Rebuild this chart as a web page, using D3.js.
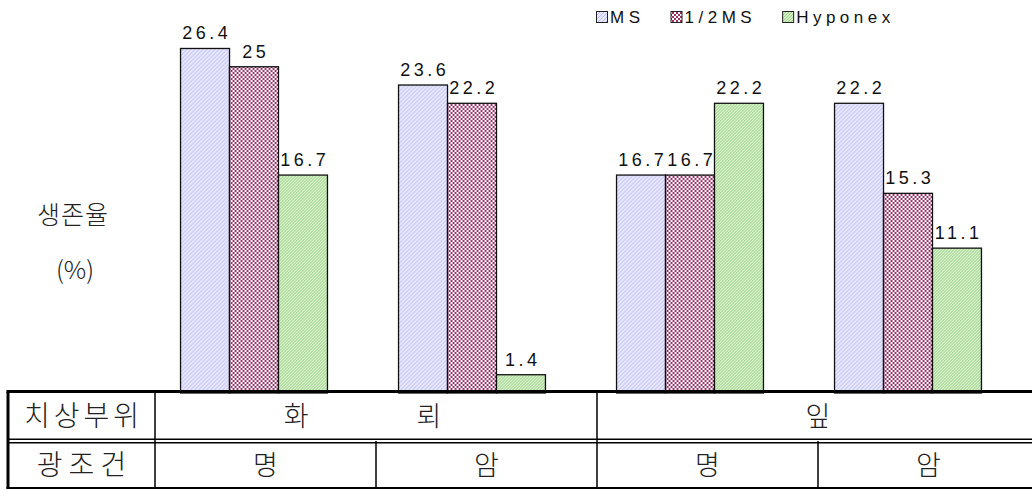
<!DOCTYPE html>
<html>
<head>
<meta charset="utf-8">
<script src="https://cdn.jsdelivr.net/npm/d3@7/dist/d3.min.js"></script>
<style>
  body { margin: 0; background: #fff; }
  svg { display: block; }
  .num { font-family: "Liberation Sans", Arial, sans-serif; }
  .kr { font-family: "Noto Sans CJK KR", sans-serif; font-weight: 300; }
</style>
</head>
<body>
<div id="root"></div>
<script>
// data
const groups = ["화뢰-명", "화뢰-암", "잎-명", "잎-암"]
const series = ["MS", "1/2MS", "Hyponex"]
const ms_values = [26.4, 23.6, 16.7, 22.2]
const half_ms_values = [25, 22.2, 16.7, 15.3]
const hyponex_values = [16.7, 1.4, 22.2, 11.1]

// table under the chart
const part_labels = ["화　　　　뢰　", "잎"]
const light_labels = ["명", "암", "명", "암"]

const width = 1032, height = 490

const svg = d3.select("#root").append("svg")
  .attr("width", width)
  .attr("height", height)

// fill patterns
const defs = svg.append("defs")

const p_ms = defs.append("pattern").attr("id", "pat_ms")
  .attr("patternUnits", "userSpaceOnUse").attr("width", 4).attr("height", 4)
p_ms.append("rect").attr("width", 4).attr("height", 4).attr("fill", "#e6e6ff")
p_ms.append("path").attr("d", "M-1,1 l2,-2 M0,4 l4,-4 M3,5 l2,-2")
  .attr("stroke", "#bcbcf4").attr("stroke-width", 1)

const p_half = defs.append("pattern").attr("id", "pat_half")
  .attr("patternUnits", "userSpaceOnUse").attr("width", 4).attr("height", 4)
p_half.append("rect").attr("width", 4).attr("height", 4).attr("fill", "#fff")
p_half.append("rect").attr("width", 2).attr("height", 2).attr("fill", "#9c3368")
p_half.append("rect").attr("x", 2).attr("y", 2).attr("width", 2).attr("height", 2).attr("fill", "#9c3368")

const p_hyp = defs.append("pattern").attr("id", "pat_hyp")
  .attr("patternUnits", "userSpaceOnUse").attr("width", 3).attr("height", 3)
p_hyp.append("rect").attr("width", 3).attr("height", 3).attr("fill", "#d8f0c0")
p_hyp.append("path").attr("d", "M0,3 l3,-3 M-1,1 l2,-2 M2,4 l2,-2")
  .attr("stroke", "#8ccc94").attr("stroke-width", 0.9)

const fills = ["url(#pat_ms)", "url(#pat_half)", "url(#pat_hyp)"]

const rows = groups.map((g, i) => ({
  group: g,
  values: [ms_values[i], half_ms_values[i], hyponex_values[i]]
}))

// scales
const x0 = d3.scaleBand()
  .domain(groups)
  .range([145, 1017])
  .paddingInner(0.326)
  .paddingOuter(0.163)

const x1 = d3.scaleBand()
  .domain(series)
  .range([0, x0.bandwidth()])

const y = d3.scaleLinear()
  .domain([0, 30])
  .range([393, 1.5])

// bars
const group_g = svg.append("g").selectAll("g")
  .data(rows)
  .join("g")
  .attr("transform", d => "translate(" + x0(d.group) + ",0)")

group_g.selectAll("rect")
  .data(d => d.values.map((v, j) => ({key: series[j], value: v, idx: j})))
  .join("rect")
  .attr("x", d => x1(d.key))
  .attr("y", d => y(d.value))
  .attr("width", x1.bandwidth())
  .attr("height", d => y(0) - y(d.value))
  .attr("fill", d => fills[d.idx])
  .attr("stroke", "#111")
  .attr("stroke-width", 1.3)

// value labels
const label_ls = 3.5
group_g.selectAll("text")
  .data(d => d.values.map((v, j) => ({key: series[j], value: v})))
  .join("text")
  .attr("class", "num")
  .attr("x", d => x1(d.key) + x1.bandwidth() / 2 + label_ls / 2)
  .attr("y", d => y(d.value) - 9)
  .attr("text-anchor", "middle")
  .attr("font-size", 18)
  .attr("letter-spacing", label_ls)
  .attr("fill", "#111")
  .text(d => d.value)

// legend
const legend = svg.append("g")
let lx = 596
series.forEach((s, i) => {
  legend.append("rect")
    .attr("x", lx + 0.5).attr("y", 11.5)
    .attr("width", 11).attr("height", 11)
    .attr("fill", fills[i])
    .attr("stroke", "#222").attr("stroke-width", 1)
  const t = legend.append("text")
    .attr("class", "num")
    .attr("x", lx + 14)
    .attr("y", 23)
    .attr("font-size", 17)
    .attr("letter-spacing", 4.5)
    .attr("fill", "#111")
    .text(s)
  lx = lx + 14 + t.node().getComputedTextLength() + 26
})

// y axis title
svg.append("text")
  .attr("class", "kr")
  .attr("x", 73).attr("y", 224)
  .attr("text-anchor", "middle")
  .attr("font-size", 25)
  .attr("letter-spacing", 1)
  .attr("fill", "#222")
  .text("생존율")
svg.append("text")
  .attr("class", "kr")
  .attr("x", 75).attr("y", 279)
  .attr("text-anchor", "middle")
  .attr("font-size", 25)
  .attr("fill", "#222")
  .text("(%)")

// table
const table = svg.append("g")
const t_left = 8, t_head = 155, t_top = 391.5, t_mid = 441, t_bot = 488

const col = d3.scaleBand()
  .domain(light_labels.map((d, i) => i))
  .range([t_head, 1039])

table.append("line").attr("x1", t_left - 1.5).attr("x2", width).attr("y1", t_top).attr("y2", t_top)
  .attr("stroke", "#000").attr("stroke-width", 3)
table.append("line").attr("x1", t_left).attr("x2", width).attr("y1", t_mid - 1.7).attr("y2", t_mid - 1.7)
  .attr("stroke", "#000").attr("stroke-width", 1.4)
table.append("line").attr("x1", t_left).attr("x2", width).attr("y1", t_mid + 1.7).attr("y2", t_mid + 1.7)
  .attr("stroke", "#000").attr("stroke-width", 1.4)
table.append("line").attr("x1", t_left - 1.5).attr("x2", width).attr("y1", t_bot).attr("y2", t_bot)
  .attr("stroke", "#000").attr("stroke-width", 2)
table.append("line").attr("x1", t_left).attr("x2", t_left).attr("y1", t_top).attr("y2", t_bot + 1)
  .attr("stroke", "#000").attr("stroke-width", 3)
table.append("line").attr("x1", t_head).attr("x2", t_head).attr("y1", t_top).attr("y2", t_bot)
  .attr("stroke", "#000").attr("stroke-width", 1.5)

// top row spans two columns each, bottom row one each
const span_w = col.step() * 2
part_labels.forEach((p, i) => {
  const xs = t_head + i * span_w
  if (i > 0) {
    table.append("line").attr("x1", xs).attr("x2", xs).attr("y1", t_top).attr("y2", t_bot)
      .attr("stroke", "#000").attr("stroke-width", 1.5)
  }
  table.append("text")
    .attr("class", "kr")
    .attr("x", xs + span_w / 2)
    .attr("y", (t_top + t_mid) / 2 + 10)
    .attr("text-anchor", "middle")
    .attr("font-size", 27)
    .attr("fill", "#222")
    .style("white-space", "pre")
    .text(p)
})

light_labels.forEach((l, i) => {
  if (i % 2 == 1) {
    table.append("line").attr("x1", col(i)).attr("x2", col(i)).attr("y1", t_mid).attr("y2", t_bot)
      .attr("stroke", "#000").attr("stroke-width", 1.5)
  }
  table.append("text")
    .attr("class", "kr")
    .attr("x", col(i) + col.bandwidth() / 2)
    .attr("y", (t_mid + t_bot) / 2 + 10)
    .attr("text-anchor", "middle")
    .attr("font-size", 27)
    .attr("fill", "#222")
    .text(l)
})

table.append("text")
  .attr("class", "kr")
  .attr("x", (t_left + t_head) / 2 + 2)
  .attr("y", (t_top + t_mid) / 2 + 10)
  .attr("text-anchor", "middle")
  .attr("font-size", 28)
  .attr("letter-spacing", 4)
  .attr("fill", "#222")
  .text("치상부위")
table.append("text")
  .attr("class", "kr")
  .attr("x", (t_left + t_head) / 2 + 3)
  .attr("y", (t_mid + t_bot) / 2 + 10)
  .attr("text-anchor", "middle")
  .attr("font-size", 28)
  .attr("letter-spacing", 6)
  .attr("fill", "#222")
  .text("광조건")
</script>
</body>
</html>
